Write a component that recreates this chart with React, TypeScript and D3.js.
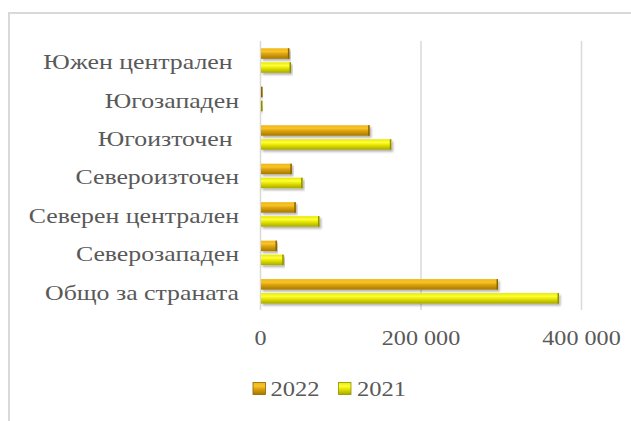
import React from "react";
import * as d3 from "d3";

const categories = [
  "Южен централен ",
  "Югозападен",
  "Югоизточен ",
  "Североизточен",
  "Северен централен",
  "Северозападен",
  "Общо за страната",
];
const values2022 = [36000, 1500, 136000, 39000, 44000, 20500, 296000];
const values2021 = [38000, 1800, 163000, 52500, 73500, 29000, 372000];
const seriesNames = ["2022", "2021"];
const xTicks = [0, 200000, 400000];

const W = 631;
const H = 421;
const FONT = "Liberation Serif";
const TEXT = "#595959";

function SText(props: {
  x: number;
  y: number;
  sx: number;
  size: number;
  anchor: "start" | "middle" | "end";
  children: React.ReactNode;
}) {
  return (
    <text
      transform={`translate(${props.x},${props.y}) scale(${props.sx},1)`}
      textAnchor={props.anchor}
      style={{ fontFamily: FONT, fontSize: props.size, whiteSpace: "pre" }}
      fill={TEXT}
    >
      {props.children}
    </text>
  );
}

export default function App() {
  const x = d3.scaleLinear().domain([0, 400000]).range([260.5, 581.5]);
  const y = d3.scaleBand<string>().domain(categories).range([41.3, 310.6]).paddingInner(0).paddingOuter(0);
  const barH = 10.5;
  const gap = 3.5;
  const fmt = (v: number) => d3.format(",")(v).replace(/,/g, " ");

  const series = [
    { name: seriesNames[0], values: values2022, grad: "g2022", edge: "#8a6400", lx: 253, tx: 270.5 },
    { name: seriesNames[1], values: values2021, grad: "g2021", edge: "#8f8f00", lx: 338.5, tx: 357 },
  ];

  return (
    <svg width={W} height={H} style={{ position: "absolute", left: 0, top: 0 }}>
      <defs>
        <linearGradient id="g2022" x1="0" y1="0" x2="0" y2="1">
          <stop offset="0" stopColor="#f0b414" />
          <stop offset="0.3" stopColor="#f7c52a" />
          <stop offset="0.55" stopColor="#dba10c" />
          <stop offset="1" stopColor="#a67800" />
        </linearGradient>
        <linearGradient id="g2021" x1="0" y1="0" x2="0" y2="1">
          <stop offset="0" stopColor="#e8e800" />
          <stop offset="0.3" stopColor="#ffff3a" />
          <stop offset="0.55" stopColor="#e5e500" />
          <stop offset="1" stopColor="#a8a800" />
        </linearGradient>
        <filter id="shadow" x="-5%" y="-30%" width="110%" height="180%">
          <feDropShadow dx="1.5" dy="2" stdDeviation="1.2" floodColor="#000" floodOpacity="0.3" />
        </filter>
      </defs>
      <rect x={0} y={0} width={W} height={H} fill="#fff" />
      <path d={`M9,${H} V13 H${W}`} fill="none" stroke="#d9d9d9" strokeWidth={2} />

      {xTicks.map((t) => (
        <line key={t} x1={x(t)} x2={x(t)} y1={41} y2={310} stroke="#d9d9d9" strokeWidth={1.5} />
      ))}

      {categories.map((c, i) => {
        const cy = (y(c) as number) + y.bandwidth() / 2;
        return series.map((s, si) => {
          const top = si === 0 ? cy - gap / 2 - barH : cy + gap / 2;
          const x0 = x(0) + 0.5;
          const w = Math.max(1.5, x(s.values[i]) - x0);
          return (
            <g key={c + s.name} filter="url(#shadow)">
              <rect x={x0} y={top} width={w} height={barH} fill={`url(#${s.grad})`} />
              <rect x={x0 + w - 1.5} y={top} width={1.5} height={barH} fill={s.edge} />
            </g>
          );
        });
      })}

      {categories.map((c) => (
        <SText key={c} x={239} y={(y(c) as number) + y.bandwidth() / 2 + 8.5} sx={1.2} size={21.5} anchor="end">
          {c}
        </SText>
      ))}

      {xTicks.map((t) => (
        <SText key={t} x={x(t)} y={345} sx={1.15} size={21} anchor="middle">
          {fmt(t)}
        </SText>
      ))}

      {series.map((s) => (
        <g key={s.name}>
          <rect x={s.lx} y={382.5} width={12.5} height={12} fill={`url(#${s.grad})`} stroke={s.edge} strokeWidth={0.8} />
          <SText x={s.tx} y={395.5} sx={1.17} size={21} anchor="start">
            {s.name}
          </SText>
        </g>
      ))}
    </svg>
  );
}
